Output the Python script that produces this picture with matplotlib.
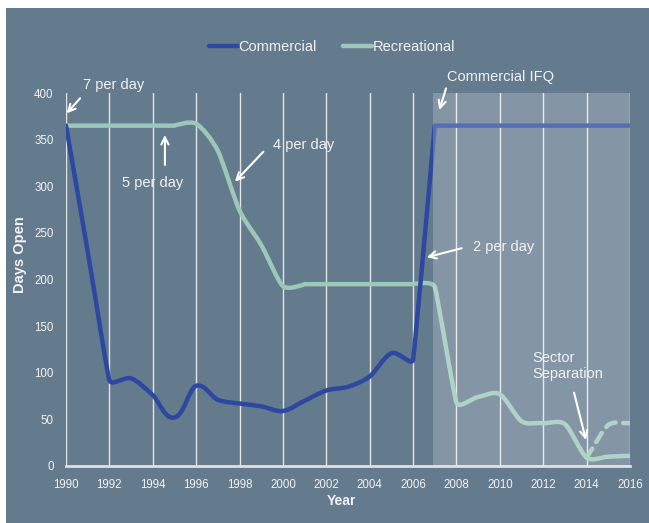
import numpy as np
import matplotlib
matplotlib.use('Agg')
import matplotlib.pyplot as plt
from matplotlib.path import Path
from matplotlib.patches import PathPatch, Rectangle
from matplotlib.lines import Line2D

plt.rcParams['font.family'] = ['Liberation Sans', 'DejaVu Sans']

# Data
comm_years = [1990, 1991, 1992, 1993, 1994, 1995, 1996, 1997, 1998, 1999, 2000,
              2001, 2002, 2003, 2004, 2005, 2006, 2007, 2008, 2009, 2010, 2011,
              2012, 2013, 2014, 2015, 2016]
comm_days = [365, 230, 92, 94, 76, 52, 86, 71, 67, 64, 59,
             70, 81, 85, 96, 121, 114, 365, 365, 365, 365, 365,
             365, 365, 365, 365, 365]

rec_years = [1990, 1991, 1992, 1993, 1994, 1995, 1996, 1997, 1998, 1999, 2000,
             2001, 2002, 2003, 2004, 2005, 2006, 2007, 2008, 2009, 2010, 2011,
             2012, 2013, 2014, 2015, 2016]
rec_days = [365, 365, 365, 365, 365, 365, 367, 338, 274, 237, 193,
            195, 195, 195, 195, 195, 195, 192, 68, 74, 77, 48,
            46, 45, 9, 10, 11]

rec_alt_years = [2014, 2015, 2016]
rec_alt_days = [9, 44, 46]

ifq_start = 2006.9

COMM = '#2c48a0'
REC = '#9cc8b9'
PANEL = '#647a8d'
TXT = '#f2f2f2'

fig = plt.figure(figsize=(6.49, 5.23), dpi=100)
fig.patch.set_facecolor('white')
fig.add_artist(Rectangle((6 / 649, 0), 1, (523 - 7.5) / 523,
                         transform=fig.transFigure, facecolor=PANEL,
                         edgecolor='none', zorder=0))

ax = fig.add_axes([66 / 649, (523 - 466) / 523, 564 / 649, 373 / 523])
ax.set_facecolor('none')
ax.set_xlim(1990, 2016)
ax.set_ylim(0, 400)

# pixel scale of the axes, used so the smoothing works in screen space
sx = 564 / 26
sy = 373 / 400


def smooth_path(xs, ys):
    # Excel-like smoothed line: Bezier arms along neighbour chord,
    # arm length from the shorter adjacent segment; sharp corner next to flat runs
    xs = np.asarray(xs, float)
    ys = np.asarray(ys, float)
    P = np.column_stack([xs * sx, ys * sy])
    n = len(P)
    seg = np.hypot(*(P[1:] - P[:-1]).T)
    tang = np.zeros_like(P)
    arm = np.zeros(n)
    for i in range(n):
        if i == 0:
            d = P[1] - P[0]
            arm[i] = seg[0] / 3
        elif i == n - 1:
            d = P[-1] - P[-2]
            arm[i] = seg[-1] / 3
        else:
            arm[i] = min(seg[i - 1], seg[i]) / 3
            if ys[i] == ys[i - 1] or ys[i] == ys[i + 1]:
                d = np.zeros(2)
            else:
                d = P[i + 1] - P[i - 1]
        nrm = np.hypot(*d)
        tang[i] = d / nrm if nrm > 0 else 0
    verts = [P[0]]
    codes = [Path.MOVETO]
    for i in range(n - 1):
        verts += [P[i] + tang[i] * arm[i], P[i + 1] - tang[i + 1] * arm[i + 1], P[i + 1]]
        codes += [Path.CURVE4] * 3
    verts = np.array(verts) / [sx, sy]
    return Path(verts, codes)


line_kw = dict(fill=False, lw=3.2, capstyle='round', joinstyle='round', zorder=3)
ax.add_patch(PathPatch(smooth_path(rec_alt_years, rec_alt_days), edgecolor=REC,
                       linestyle=(0, (2.4, 1.7)), **line_kw))
ax.add_patch(PathPatch(smooth_path(rec_years, rec_days), edgecolor=REC, **line_kw))
ax.add_patch(PathPatch(smooth_path(comm_years, comm_days), edgecolor=COMM, **line_kw))

# IFQ shaded period
ax.axvspan(ifq_start, 2016, color='white', alpha=0.21, lw=0, zorder=4)

ax.set_xticks(range(1990, 2017, 2))
ax.set_yticks(range(0, 401, 50))
ax.grid(axis='x', color='#e4e4e4', lw=1)
ax.set_axisbelow(True)
for s in ['top', 'right', 'left']:
    ax.spines[s].set_visible(False)
ax.spines['bottom'].set_color('#e0e0e0')
ax.spines['bottom'].set_linewidth(2)
ax.tick_params(length=0, colors=TXT, labelsize=8.3)
ax.tick_params(axis='x', pad=9)
ax.tick_params(axis='y', pad=9)

ax.set_xlabel('Year', fontsize=10, fontweight='bold', color=TXT)
ax.xaxis.set_label_coords(0.489, -0.074)
ax.set_ylabel('Days Open', fontsize=10.5, fontweight='bold', color=TXT)
ax.yaxis.set_label_coords(-0.069, 0.566)

# annotations
txt_kw = dict(color=TXT, fontsize=10.5, va='center', zorder=6, clip_on=False)
arr_kw = dict(arrowstyle='->', color='white', lw=1.5, shrinkA=0, shrinkB=0,
              mutation_scale=13)


def note(label, tx, ty, tip, tail, ha='left'):
    ax.text(tx, ty, label, ha=ha, **txt_kw)
    ax.annotate('', xy=tip, xytext=tail, arrowprops=arr_kw,
                annotation_clip=False, zorder=6)


note('7 per day', 1990.77, 408.6, (1990.03, 378.2), (1990.65, 394.3))
note('5 per day', 1993.99, 303.5, (1994.56, 355.0), (1994.56, 322.8), ha='center')
note('4 per day', 1999.53, 344.2, (1997.79, 304.9), (1999.10, 337.1))
note('2 per day', 2008.75, 234.5, (2006.63, 223.8), (2008.24, 233.5))
note('Commercial IFQ', 2007.55, 416.8, (2007.21, 381.8), (2007.52, 405.0))
note('Sector\nSeparation', 2011.50, 107.2, (2013.97, 27.9), (2013.42, 78.6))

handles = [Line2D([], [], color=COMM, lw=3.2, solid_capstyle='round'),
           Line2D([], [], color=REC, lw=3.2, solid_capstyle='round')]
fig.legend(handles, ['Commercial', 'Recreational'], loc='center',
           bbox_to_anchor=(332 / 649, (523 - 47) / 523), ncol=2, frameon=False,
           fontsize=10.5, handlelength=2.0, handletextpad=0.05,
           columnspacing=1.8, labelcolor=TXT)

plt.savefig('out.png', dpi=100)
